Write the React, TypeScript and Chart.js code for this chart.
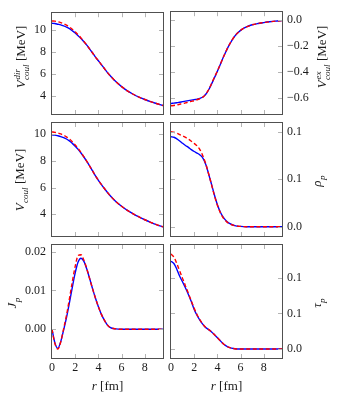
import React, { useEffect, useRef } from 'react';
import { Chart, registerables } from 'chart.js';
Chart.register(...registerables);

// ---------- data ----------
const R = [0, 0.25, 0.5, 0.75, 1, 1.25, 1.5, 1.75, 2, 2.25, 2.5, 2.75, 3, 3.25, 3.5, 3.75, 4, 4.25, 4.5, 4.75, 5, 5.5, 6, 6.5, 7, 7.5, 8, 8.5, 9, 9.57];

const VDIR_BLUE = [10.63, 10.6, 10.54, 10.48, 10.39, 10.28, 10.14, 9.94, 9.73, 9.49, 9.23, 8.93, 8.62, 8.26, 7.9, 7.53, 7.19, 6.84, 6.5, 6.15, 5.84, 5.28, 4.82, 4.43, 4.12, 3.86, 3.64, 3.44, 3.27, 3.08];
const VDIR_RED = [10.84, 10.82, 10.77, 10.69, 10.58, 10.45, 10.29, 10.08, 9.84, 9.57, 9.28, 8.96, 8.63, 8.26, 7.9, 7.53, 7.19, 6.84, 6.5, 6.15, 5.84, 5.28, 4.82, 4.43, 4.12, 3.86, 3.64, 3.44, 3.27, 3.08];

const VEX_BLUE = [-0.646, -0.643, -0.64, -0.636, -0.632, -0.628, -0.624, -0.62, -0.616, -0.612, -0.606, -0.596, -0.575, -0.54, -0.495, -0.446, -0.398, -0.346, -0.292, -0.243, -0.198, -0.126, -0.082, -0.056, -0.039, -0.029, -0.022, -0.016, -0.011, -0.007];
const VEX_RED = [-0.664, -0.661, -0.657, -0.652, -0.647, -0.641, -0.636, -0.63, -0.624, -0.617, -0.609, -0.597, -0.574, -0.538, -0.492, -0.443, -0.395, -0.344, -0.291, -0.242, -0.197, -0.126, -0.082, -0.056, -0.039, -0.029, -0.022, -0.016, -0.011, -0.007];

const VCOUL_BLUE = [9.96, 9.94, 9.89, 9.83, 9.75, 9.65, 9.51, 9.32, 9.11, 8.87, 8.6, 8.3, 7.97, 7.62, 7.25, 6.88, 6.55, 6.24, 5.95, 5.67, 5.41, 4.96, 4.6, 4.29, 4.03, 3.8, 3.59, 3.4, 3.23, 3.06];
const VCOUL_RED = [10.18, 10.15, 10.1, 10.03, 9.93, 9.81, 9.65, 9.45, 9.21, 8.94, 8.64, 8.31, 7.97, 7.62, 7.25, 6.88, 6.55, 6.24, 5.95, 5.67, 5.41, 4.96, 4.6, 4.29, 4.03, 3.8, 3.59, 3.4, 3.23, 3.06];

const RHO_BLUE = [0.0947, 0.0942, 0.0925, 0.0903, 0.0878, 0.0855, 0.0835, 0.0812, 0.0792, 0.0775, 0.0755, 0.0722, 0.0655, 0.0553, 0.0443, 0.0331, 0.0232, 0.0155, 0.01, 0.0063, 0.0038, 0.0012, 0.0003, 0, 0, 0, 0, 0, 0, 0];
const RHO_RED = [0.1, 0.0995, 0.0985, 0.097, 0.0955, 0.094, 0.0922, 0.09, 0.0877, 0.085, 0.081, 0.0745, 0.066, 0.0555, 0.044, 0.0325, 0.0225, 0.0148, 0.0093, 0.0058, 0.0034, 0.0011, 0.0003, 0, 0, 0, 0, 0, 0, 0];

const J_BLUE = [0, -0.0035, -0.0049, -0.0032, -0.0002, 0.003, 0.0068, 0.0108, 0.0145, 0.0173, 0.0183, 0.0175, 0.0155, 0.013, 0.0104, 0.008, 0.0058, 0.0039, 0.0024, 0.0012, 0.0005, 0.0001, 0, 0, 0, 0, 0, 0, 0, 0];
const J_RED = [0, -0.0037, -0.0051, -0.0033, 0.0001, 0.0036, 0.0078, 0.0122, 0.0162, 0.019, 0.0192, 0.0178, 0.0156, 0.013, 0.0104, 0.008, 0.0058, 0.0039, 0.0024, 0.0012, 0.0005, 0.0001, 0, 0, 0, 0, 0, 0, 0, 0];

const TAU_BLUE = [0.1232, 0.12, 0.112, 0.102, 0.094, 0.0855, 0.0765, 0.0665, 0.0555, 0.047, 0.0403, 0.0345, 0.03, 0.0272, 0.024, 0.02, 0.0158, 0.0115, 0.0075, 0.0045, 0.0022, 0.0004, 0, 0, 0, 0, 0, 0, 0, 0];
const TAU_RED = [0.1332, 0.129, 0.12, 0.1095, 0.099, 0.0885, 0.078, 0.0675, 0.057, 0.048, 0.0408, 0.0347, 0.0301, 0.0272, 0.024, 0.02, 0.0158, 0.0115, 0.0075, 0.0045, 0.0022, 0.0004, 0, 0, 0, 0, 0, 0, 0, 0];

const X_TICKS = [0, 2, 4, 6, 8];
const X_TICK_LABELS = ['0', '2', '4', '6', '8'];
const X_MIN = 0;
const X_MAX = 9.57;

const VDIR_TICKS = [4, 6, 8, 10];
const VDIR_TICK_LABELS = ['4', '6', '8', '10'];
const VEX_TICKS = [-0.6, -0.4, -0.2, 0];
const VEX_TICK_LABELS = ['\u22120.6', '\u22120.4', '\u22120.2', '0.0'];
const VCOUL_TICKS = [4, 6, 8, 10];
const VCOUL_TICK_LABELS = ['4', '6', '8', '10'];
const RHO_TICKS = [0, 0.05, 0.1];
const RHO_TICK_LABELS = ['0.0', '0.1', '0.1'];
const J_TICKS = [0, 0.01, 0.02];
const J_TICK_LABELS = ['0.00', '0.01', '0.02'];
const TAU_TICKS = [0, 0.05, 0.1];
const TAU_TICK_LABELS = ['0.0', '0.1', '0.1'];

// ---------- layout / styling ----------
const W = 339;
const H = 397;
const COLS = [[52, 163], [171, 282]];
const ROWS = [[1, 114], [123, 236], [245, 358]];
const SERIF = '"Liberation Serif", "Times New Roman", serif';
const TEXT = '#1a1a1a';

type Tok = { t: string; it?: boolean; sub?: string; sup?: string };

type Panel = {
  col: number;
  row: number;
  yMin: number;
  yMax: number;
  yTicks: number[];
  yLabels: string[];
  red: number[];
  blue: number[];
  label: Tok[];
  labelPos: [number, number];
};

const PANELS: Panel[] = [
  { col: 0, row: 0, yMin: 2.31, yMax: 11.55, yTicks: VDIR_TICKS, yLabels: VDIR_TICK_LABELS, red: VDIR_RED, blue: VDIR_BLUE,
    label: [{ t: 'V', it: true, sub: 'coul', sup: 'dir' }, { t: ' [MeV]' }], labelPos: [21, 57] },
  { col: 1, row: 0, yMin: -0.727, yMax: 0.058, yTicks: VEX_TICKS, yLabels: VEX_TICK_LABELS, red: VEX_RED, blue: VEX_BLUE,
    label: [{ t: 'V', it: true, sub: 'coul', sup: 'ex' }, { t: ' [MeV]' }], labelPos: [322, 57] },
  { col: 0, row: 1, yMin: 2.37, yMax: 10.85, yTicks: VCOUL_TICKS, yLabels: VCOUL_TICK_LABELS, red: VCOUL_RED, blue: VCOUL_BLUE,
    label: [{ t: 'V', it: true, sub: 'coul' }, { t: ' [MeV]' }], labelPos: [20, 180] },
  { col: 1, row: 1, yMin: -0.0098, yMax: 0.1092, yTicks: RHO_TICKS, yLabels: RHO_TICK_LABELS, red: RHO_RED, blue: RHO_BLUE,
    label: [{ t: '\u03c1', it: true, sub: 'p' }], labelPos: [317, 181] },
  { col: 0, row: 2, yMin: -0.0074, yMax: 0.0217, yTicks: J_TICKS, yLabels: J_TICK_LABELS, red: J_RED, blue: J_BLUE,
    label: [{ t: 'J', it: true, sub: 'p' }], labelPos: [12, 303] },
  { col: 1, row: 2, yMin: -0.0126, yMax: 0.1459, yTicks: TAU_TICKS, yLabels: TAU_TICK_LABELS, red: TAU_RED, blue: TAU_BLUE,
    label: [{ t: '\u03c4', it: true, sub: 'p' }], labelPos: [317, 303] },
];

function fontStr(it: boolean, size: number) {
  return `${it ? 'italic ' : ''}${size}px ${SERIF}`;
}

function drawMath(ctx: CanvasRenderingContext2D, toks: Tok[], cx: number, cy: number, size: number, rotate: boolean) {
  const subSize = size * 0.7;
  const widths: [number, number][] = [];
  let total = 0;
  for (const k of toks) {
    ctx.font = fontStr(!!k.it, size);
    const w = ctx.measureText(k.t).width;
    let sw = 0;
    if (k.sub || k.sup) {
      ctx.font = fontStr(true, subSize);
      sw = Math.max(k.sub ? ctx.measureText(k.sub).width : 0, k.sup ? ctx.measureText(k.sup).width : 0) + 0.5;
    }
    widths.push([w, sw]);
    total += w + sw;
  }
  ctx.save();
  ctx.translate(cx, cy);
  if (rotate) ctx.rotate(-Math.PI / 2);
  ctx.textAlign = 'left';
  ctx.textBaseline = 'alphabetic';
  ctx.fillStyle = TEXT;
  const base = size * 0.33;
  let x = -total / 2;
  toks.forEach((k, i) => {
    ctx.font = fontStr(!!k.it, size);
    ctx.fillText(k.t, x, base);
    x += widths[i][0];
    if (k.sub || k.sup) {
      ctx.font = fontStr(true, subSize);
      if (k.sub) ctx.fillText(k.sub, x + 0.3, base + size * 0.28);
      if (k.sup) ctx.fillText(k.sup, x + 0.8, base - size * 0.42);
      x += widths[i][1];
    }
  });
  ctx.restore();
}

function makeConfig(p: Panel): any {
  const [left, right] = COLS[p.col];
  const [top, bottom] = ROWS[p.row];
  const isBottom = p.row === 2;
  const yW = 40;
  const xH = isBottom ? 20 : 0;
  const onRight = p.col === 1;

  const deco = {
    id: 'deco' + p.col + p.row,
    afterDatasetsDraw(chart: any) {
      const { ctx, chartArea: a, scales } = chart;
      const xs = scales.x;
      const ys = scales.y;
      ctx.save();
      ctx.strokeStyle = '#b4b4b4';
      ctx.lineWidth = 1;
      ctx.beginPath();
      for (const v of X_TICKS) {
        const px = Math.round(xs.getPixelForValue(v)) + 0.5;
        if (px <= a.left + 1 || px >= a.right - 1) continue;
        ctx.moveTo(px, a.top);
        ctx.lineTo(px, a.top + 4);
        ctx.moveTo(px, a.bottom);
        ctx.lineTo(px, a.bottom - 4);
      }
      for (const v of p.yTicks) {
        const py = Math.round(ys.getPixelForValue(v)) + 0.5;
        ctx.moveTo(a.left, py);
        ctx.lineTo(a.left + 4, py);
        ctx.moveTo(a.right, py);
        ctx.lineTo(a.right - 4, py);
      }
      ctx.stroke();
      ctx.strokeStyle = '#505050';
      ctx.lineWidth = 1;
      ctx.strokeRect(Math.round(a.left) - 0.5, Math.round(a.top) - 0.5, Math.round(a.right) - Math.round(a.left) + 1, Math.round(a.bottom) - Math.round(a.top) + 1);
      drawMath(ctx, p.label, p.labelPos[0], p.labelPos[1], 13, true);
      if (isBottom) {
        drawMath(ctx, [{ t: 'r', it: true }, { t: ' [fm]' }], (a.left + a.right) / 2, 386, 13, false);
      }
      ctx.restore();
    },
  };

  const pts = (arr: number[]) => R.map((r, i) => ({ x: r, y: arr[i] }));

  return {
    type: 'line',
    data: {
      datasets: [
        { data: pts(p.red), borderColor: '#ff0000', borderWidth: 1.4, borderDash: [4, 2.5], pointRadius: 0, cubicInterpolationMode: 'monotone', fill: false },
        { data: pts(p.blue), borderColor: '#0000ff', borderWidth: 1.4, pointRadius: 0, cubicInterpolationMode: 'monotone', fill: false },
      ],
    },
    options: {
      animation: false,
      responsive: false,
      events: [],
      layout: {
        padding: {
          left: onRight ? left : left - yW,
          right: onRight ? W - right - yW : W - right,
          top: top,
          bottom: H - bottom - xH,
        },
      },
      plugins: { legend: { display: false }, tooltip: { enabled: false } },
      scales: {
        x: {
          type: 'linear',
          min: X_MIN,
          max: X_MAX,
          grid: { display: false, drawTicks: false },
          border: { display: false },
          afterBuildTicks: (s: any) => { s.ticks = X_TICKS.map((v) => ({ value: v })); },
          afterFit: (s: any) => { s.height = xH; },
          ticks: {
            display: isBottom,
            padding: 3,
            maxRotation: 0,
            autoSkip: false,
            color: TEXT,
            font: { family: SERIF, size: 12 },
            callback: (_v: any, i: number) => X_TICK_LABELS[i],
          },
        },
        y: {
          type: 'linear',
          position: onRight ? 'right' : 'left',
          min: p.yMin,
          max: p.yMax,
          grid: { display: false, drawTicks: false },
          border: { display: false },
          afterBuildTicks: (s: any) => { s.ticks = p.yTicks.map((v) => ({ value: v })); },
          afterFit: (s: any) => { s.width = yW; },
          ticks: {
            padding: onRight ? 5 : 6,
            autoSkip: false,
            color: TEXT,
            font: { family: SERIF, size: 12 },
            callback: (_v: any, i: number) => p.yLabels[i],
          },
        },
      },
    },
    plugins: [deco],
  };
}

function PanelCanvas({ p }: { p: Panel }) {
  const ref = useRef<HTMLCanvasElement | null>(null);
  useEffect(() => {
    if (!ref.current) return;
    const chart = new Chart(ref.current, makeConfig(p));
    return () => chart.destroy();
  }, [p]);
  return <canvas ref={ref} width={W} height={H} style={{ position: 'absolute', left: 0, top: 0, width: W, height: H }} />;
}

export default function App() {
  useEffect(() => {
    document.body.style.margin = '0';
    document.body.style.background = '#ffffff';
  }, []);
  return (
    <div style={{ position: 'relative', width: W, height: H, background: '#fff', overflow: 'hidden' }}>
      {PANELS.map((p, i) => (
        <PanelCanvas key={i} p={p} />
      ))}
    </div>
  );
}
